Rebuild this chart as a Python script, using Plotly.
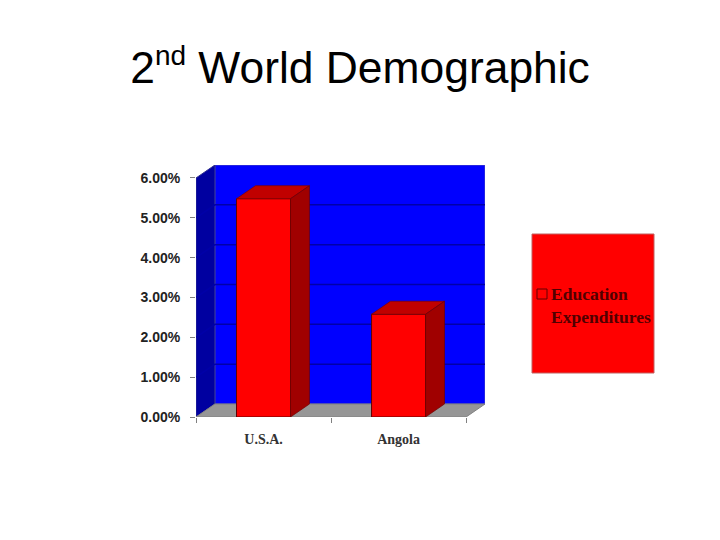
import plotly.graph_objects as go

categories = ["U.S.A.", "Angola"]
series_name = "Education<br>Expenditures"
values = [5.48, 2.58]
y_ticks = [0, 1, 2, 3, 4, 5, 6]
y_tick_labels = ["0.00%", "1.00%", "2.00%", "3.00%", "4.00%", "5.00%", "6.00%"]
title_text = '2<sup><span style="font-size:28px">nd</span></sup> World Demographic'

# Depth of the fake 3D box, in axis units
DX, DY = 0.14, 0.326
BAR_W = 0.4
XL, XR, YTOP = -0.5, 1.5, 6

# Page pixels -> paper fractions for the legend panel
def px(p):
    return (p - 196) / 289

def py(p):
    return (417 - p) / 252

shapes = [
    # back wall
    dict(type="rect", layer="below", x0=XL + DX, x1=XR + DX, y0=DY, y1=YTOP + DY,
         fillcolor="#0000ff", line=dict(color="#4a4ac0", width=1)),
    # side wall
    dict(type="path", layer="below",
         path=f"M{XL},0 L{XL + DX},{DY} L{XL + DX},{YTOP + DY} L{XL},{YTOP} Z",
         fillcolor="#0000a0", line=dict(color="#303090", width=1)),
    # floor
    dict(type="path", layer="below",
         path=f"M{XL},0 L{XR},0 L{XR + DX},{DY} L{XL + DX},{DY} Z",
         fillcolor="#969696", line=dict(color="#808080", width=1)),
    # legend panel
    dict(type="rect", layer="below", xref="paper", yref="paper",
         x0=px(532), x1=px(654), y0=py(373), y1=py(234),
         fillcolor="#ff0000", line=dict(color="#c06060", width=1)),
    # legend swatch
    dict(type="rect", layer="below", xref="paper", yref="paper",
         x0=px(537), x1=px(547), y0=py(299), y1=py(289),
         fillcolor="#ff0000", line=dict(color="#600000", width=1)),
]
for t in y_ticks[1:-1]:
    shapes.append(dict(type="path", layer="below",
                       path=f"M{XL},{t} L{XL + DX},{t + DY} L{XR + DX},{t + DY}",
                       line=dict(color="#0000a8", width=1.5)))

fig = go.Figure()
fig.add_trace(go.Bar(
    x=[0, 1], y=values, width=BAR_W, name="Education Expenditures",
    marker=dict(color="#ff0000", line=dict(color="#600000", width=1)),
    showlegend=False,
))
for i, v in enumerate(values):
    l, r = i - BAR_W / 2, i + BAR_W / 2
    fig.add_trace(go.Scatter(
        x=[l, r, r + DX, l + DX, l], y=[v, v, v + DY, v + DY, v],
        mode="lines", fill="toself", fillcolor="#c00000",
        line=dict(color="#800000", width=0.7), showlegend=False, hoverinfo="skip"))
    fig.add_trace(go.Scatter(
        x=[r, r + DX, r + DX, r, r], y=[0, DY, v + DY, v, 0],
        mode="lines", fill="toself", fillcolor="#a00000",
        line=dict(color="#700000", width=0.7), showlegend=False, hoverinfo="skip"))

fig.update_layout(
    width=720, height=540,
    margin=dict(l=188, r=243, t=157, b=131),
    autosize=False,
    paper_bgcolor="white", plot_bgcolor="white",
    shapes=shapes,
    showlegend=False,
    title=dict(text=title_text, x=352 / 720, xref="container", xanchor="center",
               y=0.889, yref="container", yanchor="middle",
               font=dict(family="Liberation Sans", size=44.4, color="black")),
    annotations=[dict(
        text=series_name, xref="paper", yref="paper",
        x=px(549), xanchor="left", y=py(305), yanchor="middle",
        align="left", showarrow=False,
        font=dict(family="Liberation Serif", size=17.5, color="#500000", weight="bold"),
    )],
)
fig.update_xaxes(
    range=[XL, XR + DX], tickmode="array", tickvals=[0, 1], ticktext=categories,
    ticks="", showgrid=False, zeroline=False, showline=False,
    ticklabelstandoff=12,
    tickfont=dict(family="Liberation Serif", size=14, color="#333333", weight="bold"),
    minor=dict(tickmode="array", tickvals=[XL, 0.5, XR], ticks="outside", ticklen=5,
               tickcolor="#808080", showgrid=False),
)
fig.update_yaxes(
    range=[0, YTOP + DY], tickmode="array", tickvals=y_ticks, ticktext=y_tick_labels,
    ticks="outside", ticklen=5, tickcolor="#808080",
    ticklabelstandoff=7,
    showgrid=False, zeroline=False, showline=False,
    tickfont=dict(family="Liberation Sans", size=14, color="#222222", weight="bold"),
)

fig.write_html("out.html")
